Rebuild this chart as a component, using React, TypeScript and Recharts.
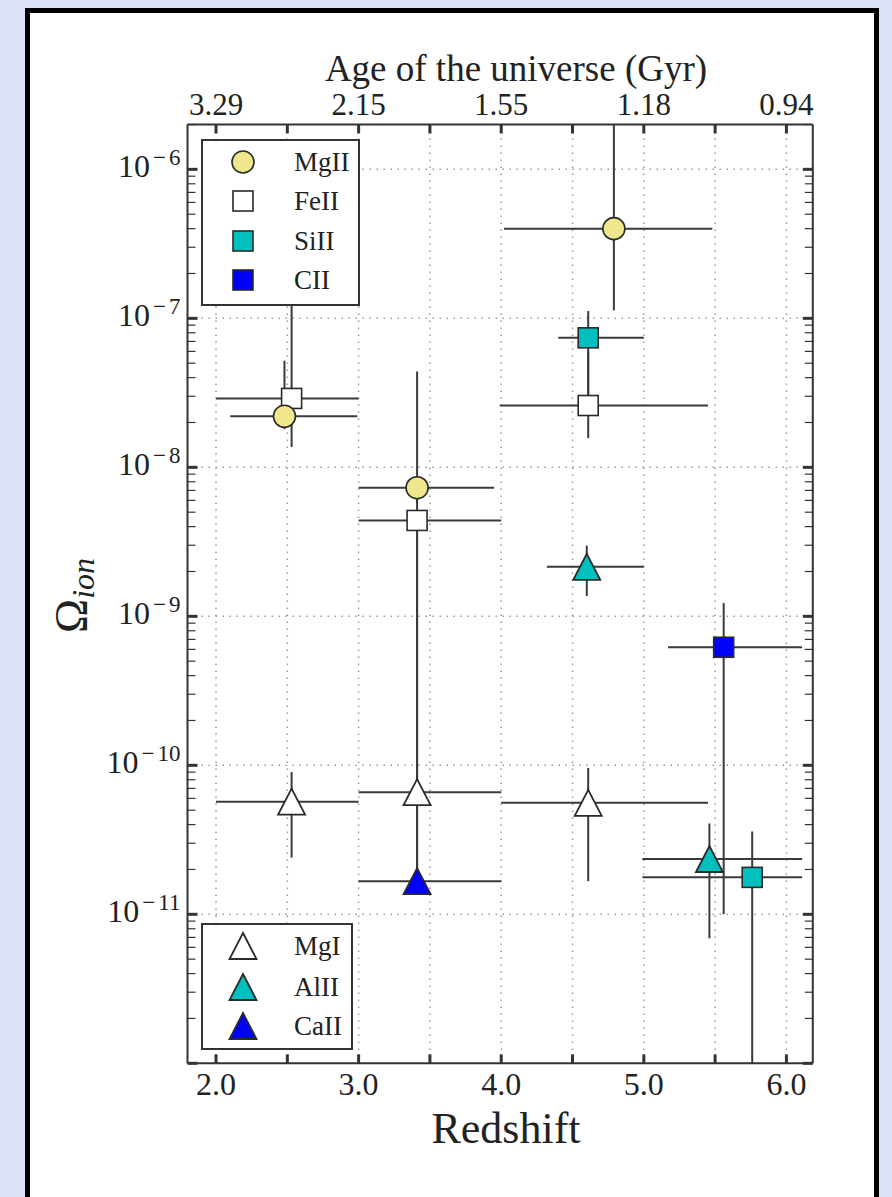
import React from 'react';
import { ComposedChart, Scatter, XAxis, YAxis, CartesianGrid, ErrorBar } from 'recharts';

const FONT = '"Liberation Serif", "Times New Roman", serif';
const KHAKI = '#f0e68c';
const CYAN = '#00bfbf';
const BLUE = '#0000ff';
const EDGE = '#2a2a2a';
const BAR = '#3a3a3a';

// axis ticks
const zTicks = [2, 2.5, 3, 3.5, 4, 4.5, 5, 5.5, 6];
const zLabels = ['2.0', '', '3.0', '', '4.0', '', '5.0', '', '6.0'];
const ageLabels = ['3.29', '', '2.15', '', '1.55', '', '1.18', '', '0.94'];
const decades = [1e-12, 1e-11, 1e-10, 1e-9, 1e-8, 1e-7, 1e-6];
const mantissas = [1, 2, 3, 4, 5, 6, 7, 8, 9];
const yTicks = decades.flatMap((d) => mantissas.map((m) => m * d)).filter((v) => v <= 2e-6);

// MgII
const mgIIz = [2.48, 3.41, 4.79];
const mgIIzLo = [2.1, 3.0, 4.02];
const mgIIzHi = [2.99, 3.95, 5.48];
const mgIIv = [2.2e-8, 7.3e-9, 4.0e-7];
const mgIIvLo = [1.8e-8, 5.8e-9, 1.13e-7];
const mgIIvHi = [5.2e-8, 4.4e-8, 2.0e-6];

// FeII
const feIIz = [2.53, 3.41, 4.61];
const feIIzLo = [2.0, 3.0, 3.99];
const feIIzHi = [3.0, 4.0, 5.45];
const feIIv = [2.9e-8, 4.4e-9, 2.6e-8];
const feIIvLo = [1.37e-8, 7e-11, 1.57e-8];
const feIIvHi = [2.0e-7, 7.3e-9, 6.0e-8];

// SiII
const siIIz = [4.61, 5.76];
const siIIzLo = [4.4, 4.99];
const siIIzHi = [5.0, 6.11];
const siIIv = [7.4e-8, 1.77e-11];
const siIIvLo = [2.6e-8, 1e-12];
const siIIvHi = [1.12e-7, 3.6e-11];

// CII
const cIIz = [5.56];
const cIIzLo = [5.17];
const cIIzHi = [6.11];
const cIIv = [6.2e-10];
const cIIvLo = [1.0e-11];
const cIIvHi = [1.23e-9];

// MgI
const mgIz = [2.53, 3.41, 4.61];
const mgIzLo = [2.0, 3.0, 4.0];
const mgIzHi = [3.0, 4.0, 5.45];
const mgIv = [5.7e-11, 6.6e-11, 5.6e-11];
const mgIvLo = [2.4e-11, 1.67e-11, 1.67e-11];
const mgIvHi = [9.0e-11, 4.4e-9, 9.6e-11];

// AlII
const alIIz = [4.6, 5.46];
const alIIzLo = [4.32, 4.99];
const alIIzHi = [5.0, 6.11];
const alIIv = [2.15e-9, 2.35e-11];
const alIIvLo = [1.37e-9, 6.9e-12];
const alIIvHi = [2.98e-9, 4.07e-11];

// CaII
const caIIz = [3.41];
const caIIzLo = [3.0];
const caIIzHi = [4.0];
const caIIv = [1.67e-11];
const caIIvLo = [1.67e-11];
const caIIvHi = [6.6e-11];

const toPoints = (z: number[], zLo: number[], zHi: number[], v: number[], vLo: number[], vHi: number[]) =>
  z.map((zz, i) => ({
    z: zz,
    v: v[i],
    ex: [zz - zLo[i], zHi[i] - zz],
    ey: [v[i] - vLo[i], vHi[i] - v[i]],
  }));

type Kind = 'circle' | 'square' | 'triangle';

const series = [
  { name: 'MgI', kind: 'triangle' as Kind, fill: '#ffffff', data: toPoints(mgIz, mgIzLo, mgIzHi, mgIv, mgIvLo, mgIvHi) },
  { name: 'AlII', kind: 'triangle' as Kind, fill: CYAN, data: toPoints(alIIz, alIIzLo, alIIzHi, alIIv, alIIvLo, alIIvHi) },
  { name: 'CaII', kind: 'triangle' as Kind, fill: BLUE, data: toPoints(caIIz, caIIzLo, caIIzHi, caIIv, caIIvLo, caIIvHi) },
  { name: 'FeII', kind: 'square' as Kind, fill: '#ffffff', data: toPoints(feIIz, feIIzLo, feIIzHi, feIIv, feIIvLo, feIIvHi) },
  { name: 'MgII', kind: 'circle' as Kind, fill: KHAKI, data: toPoints(mgIIz, mgIIzLo, mgIIzHi, mgIIv, mgIIvLo, mgIIvHi) },
  { name: 'SiII', kind: 'square' as Kind, fill: CYAN, data: toPoints(siIIz, siIIzLo, siIIzHi, siIIv, siIIvLo, siIIvHi) },
  { name: 'CII', kind: 'square' as Kind, fill: BLUE, data: toPoints(cIIz, cIIzLo, cIIzHi, cIIv, cIIvLo, cIIvHi) },
];

const legendTop = ['MgII', 'FeII', 'SiII', 'CII'];
const legendBottom = ['MgI', 'AlII', 'CaII'];

function Marker({ kind, cx, cy, fill }: { kind: Kind; cx: number; cy: number; fill: string }) {
  if (kind === 'circle') {
    return <circle cx={cx} cy={cy} r={11} fill={fill} stroke={EDGE} strokeWidth={1.6} />;
  }
  if (kind === 'square') {
    return <rect x={cx - 10} y={cy - 10} width={20} height={20} fill={fill} stroke={EDGE} strokeWidth={1.6} />;
  }
  return (
    <polygon
      points={`${cx},${cy - 13} ${cx + 13.5},${cy + 13} ${cx - 13.5},${cy + 13}`}
      fill={fill}
      stroke={EDGE}
      strokeWidth={1.8}
      strokeLinejoin="miter"
    />
  );
}

const isDecade = (v: number) => Math.abs(Math.log10(v) - Math.round(Math.log10(v))) < 1e-6;

const LeftTick = (props: any) => {
  const { x, y, payload } = props;
  const v = payload.value;
  const major = isDecade(v);
  const e = Math.round(Math.log10(v));
  return (
    <g>
      <line x1={x} x2={x + (major ? 10 : 8)} y1={y} y2={y} stroke="#333" strokeWidth={major ? 3 : 1.2} />
      {major && e > -12 && (
        <text x={x - 7} y={y + 8} textAnchor="end" fontFamily={FONT} fontSize={32} fill="#222">
          10
          <tspan fontSize={23} dx={3} dy={-12}>{'\u2212'}</tspan>
          <tspan fontSize={23} dx={3}>{Math.abs(e)}</tspan>
        </text>
      )}
    </g>
  );
};

const RightTick = (props: any) => {
  const { x, y, payload } = props;
  const major = isDecade(payload.value);
  return <line x1={x} x2={x - (major ? 10 : 8)} y1={y} y2={y} stroke="#333" strokeWidth={major ? 3 : 1.2} />;
};

const BottomTick = (props: any) => {
  const { x, y, index } = props;
  return (
    <g>
      <line x1={x} x2={x} y1={y} y2={y - 9} stroke="#333" strokeWidth={3} />
      <text x={x} y={y + 32} textAnchor="middle" fontFamily={FONT} fontSize={32} fill="#222">
        {zLabels[index]}
      </text>
    </g>
  );
};

const TopTick = (props: any) => {
  const { x, y, index } = props;
  return (
    <g>
      <line x1={x} x2={x} y1={y} y2={y + 9} stroke="#333" strokeWidth={3} />
      <text x={x} y={y - 10} textAnchor="middle" fontFamily={FONT} fontSize={31} fill="#222">
        {ageLabels[index]}
      </text>
    </g>
  );
};

function LegendBox({ names, left, top, width, height, rows }: { names: string[]; left: number; top: number; width: number; height: number; rows: number[] }) {
  return (
    <svg
      width={width}
      height={height}
      style={{ position: 'absolute', left, top, background: '#fff', border: '2px solid #333', boxSizing: 'border-box' }}
    >
      {names.map((n, i) => {
        const s = series.find((q) => q.name === n)!;
        return (
          <g key={n}>
            <Marker kind={s.kind} cx={40} cy={rows[i]} fill={s.fill} />
            <text x={91} y={rows[i] + 9} fontFamily={FONT} fontSize={27} fill="#222">
              {n}
            </text>
          </g>
        );
      })}
    </svg>
  );
}

const axisLine = { stroke: '#333', strokeWidth: 2 };

export default function App() {
  return (
    <div style={{ position: 'absolute', left: 0, top: 0, width: 892, height: 1197, background: '#dde2f7', overflow: 'hidden' }}>
      <div style={{ position: 'absolute', left: 25, top: 8, width: 844, height: 1300, border: '5px solid #000', background: '#fff' }} />
      <div style={{ position: 'absolute', left: 0, top: 0 }}>
        <ComposedChart width={892} height={1197} margin={{ top: 123.5, right: 78.2, bottom: 132.7, left: 186.5 }}>
          <CartesianGrid
            xAxisId="bottom"
            yAxisId="left"
            verticalValues={zTicks}
            horizontalValues={decades.slice(1)}
            stroke="#9a9a9a"
            strokeWidth={1.5}
            strokeDasharray="1.5 5.5"
          />
          <XAxis
            xAxisId="bottom"
            type="number"
            dataKey="z"
            domain={[1.8, 6.185]}
            allowDataOverflow
            ticks={zTicks}
            interval={0}
            height={1}
            tickSize={0}
            tickMargin={0}
            tickLine={false}
            tick={<BottomTick />}
            axisLine={axisLine}
          />
          <XAxis
            xAxisId="top"
            orientation="top"
            type="number"
            dataKey="z"
            domain={[1.8, 6.185]}
            allowDataOverflow
            ticks={zTicks}
            interval={0}
            height={1}
            tickSize={0}
            tickMargin={0}
            tickLine={false}
            tick={<TopTick />}
            axisLine={axisLine}
          />
          <YAxis
            yAxisId="left"
            type="number"
            dataKey="v"
            scale="log"
            domain={[1e-12, 2e-6]}
            allowDataOverflow
            ticks={yTicks}
            interval={0}
            width={1}
            tickSize={0}
            tickMargin={0}
            tickLine={false}
            tick={<LeftTick />}
            axisLine={axisLine}
          />
          <YAxis
            yAxisId="right"
            orientation="right"
            type="number"
            dataKey="v"
            scale="log"
            domain={[1e-12, 2e-6]}
            allowDataOverflow
            ticks={yTicks}
            interval={0}
            width={1}
            tickSize={0}
            tickMargin={0}
            tickLine={false}
            tick={<RightTick />}
            axisLine={axisLine}
          />
          {series.map((s) => (
            <Scatter
              key={s.name}
              name={s.name}
              data={s.data}
              xAxisId="bottom"
              yAxisId="left"
              isAnimationActive={false}
              shape={(p: any) => <Marker kind={s.kind} cx={p.cx} cy={p.cy} fill={s.fill} />}
            >
              <ErrorBar dataKey="ex" direction="x" width={0} stroke={BAR} strokeWidth={2} isAnimationActive={false} />
              <ErrorBar dataKey="ey" direction="y" width={0} stroke={BAR} strokeWidth={2} isAnimationActive={false} />
            </Scatter>
          ))}
        </ComposedChart>
      </div>
      <svg width={892} height={1197} style={{ position: 'absolute', left: 0, top: 0, pointerEvents: 'none' }}>
        <text x={516} y={81} textAnchor="middle" fontFamily={FONT} fontSize={37} fill="#222">
          Age of the universe (Gyr)
        </text>
        <text x={506} y={1143} textAnchor="middle" fontFamily={FONT} fontSize={44} fill="#222">
          Redshift
        </text>
        <text transform="translate(87, 633) rotate(-90)" fontFamily={FONT} fontSize={46} fill="#222">
          {'\u03A9'}
          <tspan fontSize={32} fontStyle="italic" dy={7}>
            ion
          </tspan>
        </text>
      </svg>
      <LegendBox names={legendTop} left={201} top={139} width={159} height={167} rows={[21, 60, 100, 139]} />
      <LegendBox names={legendBottom} left={201} top={923} width={152} height={127} rows={[21, 62, 101]} />
    </div>
  );
}
